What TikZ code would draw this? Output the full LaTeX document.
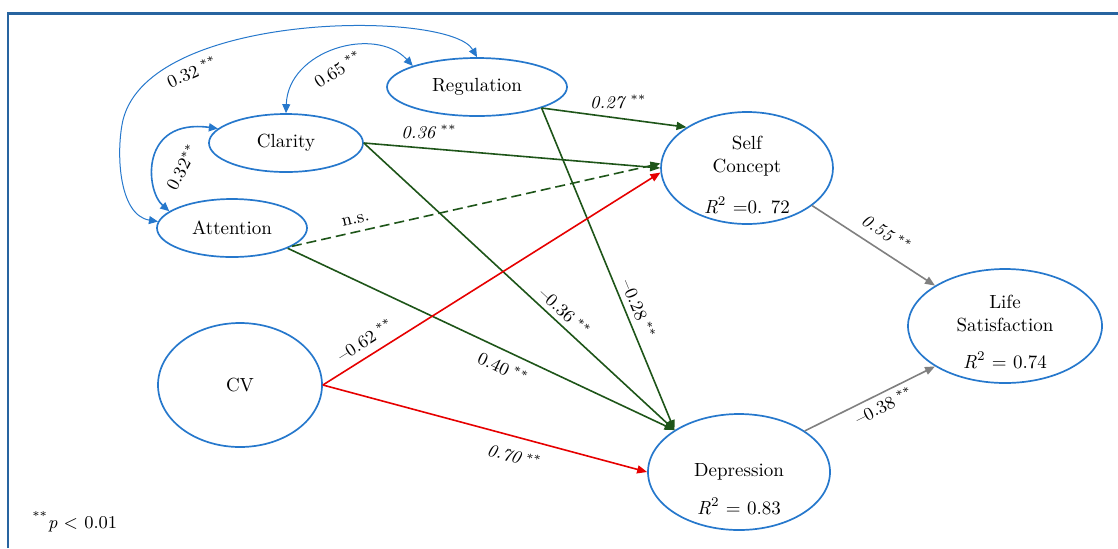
\documentclass[tikz,border=0pt]{standalone}
\usepackage{tikz}
\usetikzlibrary{arrows.meta,shapes.geometric}
\definecolor{semblue}{RGB}{38,120,204}
\definecolor{semgreen}{RGB}{30,85,25}
\definecolor{semred}{RGB}{230,0,0}
\definecolor{semgray}{RGB}{128,128,128}
\definecolor{framecol}{RGB}{40,100,160}
\pgfkeys{tikz/latent/.style={ellipse, draw=semblue, line width=0.85pt,
                                 inner sep=0pt, align=center,
                                 font=\fontsize{9.5}{11.5}\selectfont}}
\pgfkeys{tikz/intext/.style={inner sep=0pt, align=center,
                                 font=\fontsize{9.5}{11.5}\selectfont}}
\pgfkeys{tikz/effect/.style={-{Triangle[length=5pt,width=4pt]}, line width=0.8pt}}
\pgfkeys{tikz/corr/.style={{Triangle[length=4.5pt,width=4pt]}-{Triangle[length=4.5pt,width=4pt]},
                                 draw=semblue, line width=0.5pt}}
\pgfkeys{tikz/coef/.style={font=\small, text=black, inner sep=1pt}}
\newcommand{\sigst}{\kern2pt$^{**}$}
\begin{document}
\begin{tikzpicture}[x=0.5pt,y=-0.5pt]
        \useasboundingbox (0,0) rectangle (1118,548);
        \draw[framecol, line width=1.2pt] (8,548) -- (8,13.5) -- (1118,13.5);

        \node[latent, minimum width=90pt, minimum height=29pt] (reg) at (477,87) {Regulation};
        \node[latent, minimum width=77pt, minimum height=29pt] (cla) at (286,143) {Clarity};
        \node[latent, minimum width=75pt, minimum height=29pt] (att) at (232,228) {Attention};
        \node[latent, minimum width=82pt, minimum height=62pt] (cv) at (240,385) {CV};

        \node[latent, minimum width=86pt, minimum height=56pt] (sc) at (747,168) {};
        \node[latent, minimum width=97pt, minimum height=57pt] (ls) at (1005,326) {};
        \node[latent, minimum width=91pt, minimum height=58pt] (dep) at (739,472) {Depression};

        \node[intext] (sct) at (747,156.5) {Self\\Concept};
        \node[intext] (scr) at (747,205) {\textit{R}\textsuperscript{2} =0. 72};
        \node[intext] (lst) at (1005,313.5) {Life\\Satisfaction};
        \node[intext] (lsr) at (1005,360) {\textit{R}\textsuperscript{2} = 0.74};
        \node[intext] (depr) at (739,506) {\textit{R}\textsuperscript{2} = 0.83};

        \draw[effect, semgreen] (reg.-18) -- node[coef, pos=0.53, above=3.4pt] (c1) {\textit{0.27}\sigst} (sc.146);
        \draw[effect, semgreen] (reg.-18) -- node[coef, pos=0.64, sloped, above=1.7pt] (c2) {--0.28\sigst} (dep.147);
        \draw[effect, semgreen] (cla.east) -- node[coef, pos=0.22, above=3.4pt] (c3) {\textit{0.36}\sigst} (sc.west);
        \draw[effect, semgreen] (cla.east) -- node[coef, pos=0.62, sloped, above=1.4pt] (c4) {--0.36\sigst} (dep.147);
        \draw[effect, semgreen, dash pattern=on 5pt off 2.5pt] (att.-17) -- node[coef, pos=0.18, sloped, above=2.4pt] (c5) {n.s.} (sc.177);
        \draw[effect, semgreen] (att.-20) -- node[coef, pos=0.575, sloped, below=3.4pt] (c6) {0.40\sigst} (dep.147);

        \draw[effect, semred] (cv.east) -- node[coef, pos=0.15, sloped, above=3pt] (c7) {--0.62\sigst} (sc.183);
        \draw[effect, semred] (cv.east) -- node[coef, pos=0.606, sloped, below=4.8pt] (c8) {\textit{0.70}\sigst} (dep.west);

        \draw[effect, semgray] (sc.-30) -- node[coef, pos=0.53, sloped, above=3.9pt] (c9) {\textit{0.55}\sigst} (ls.150);
        \draw[effect, semgray] (dep.32) -- node[coef, pos=0.566, sloped, below=1.4pt] (c10) {--0.38\sigst} (ls.210);

        % correlations among the emotional intelligence factors
        \draw[corr, line width=0.8pt] (cla.168) .. controls (140,118) and (145,190) .. (att.165);
        \draw[corr] (cla.north) .. controls (288,50) and (375,25) .. (reg.north west);
        \draw[corr] (reg.north) .. controls (450,10) and (150,10) .. (123,120)
                    .. controls (116,150) and (118,215) .. (att.175);
        \node[coef, rotate=24] (r1) at (192,72) {0.32\sigst};
        \node[coef, rotate=33] (r2) at (338,69) {0.65\sigst};
        \node[coef, rotate=62] (r3) at (182,167) {0.32$^{**}$};

        \node[coef, anchor=west] (note) at (30,522) {\textsuperscript{**}\textit{p} $<$ 0.01};
\end{tikzpicture}
\end{document}
